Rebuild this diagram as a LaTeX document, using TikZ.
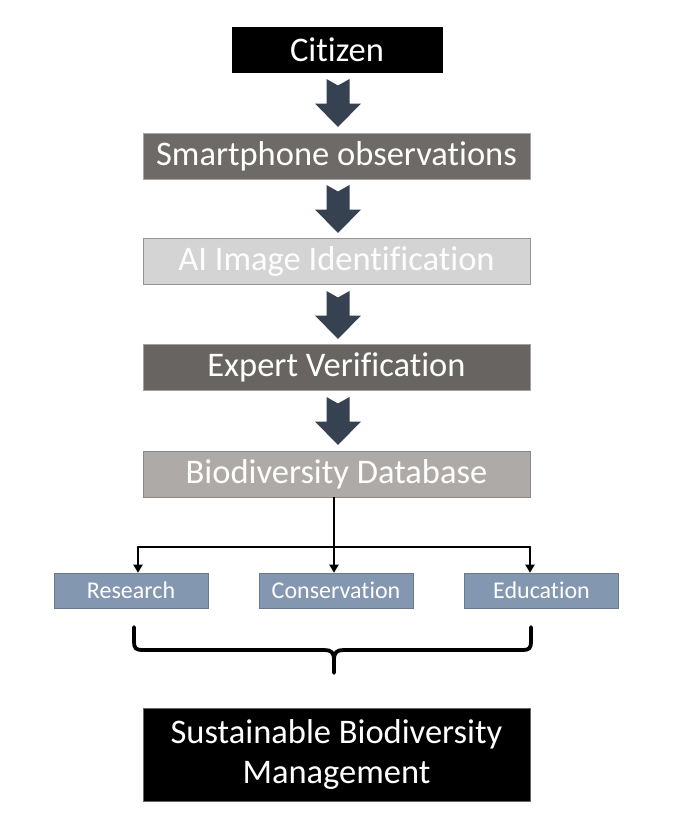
\documentclass[tikz,border=0pt]{standalone}
\usepackage{fontspec}
\setmainfont[Ligatures=NoCommon]{Carlito}
\usetikzlibrary{arrows.meta,calc}
\definecolor{arrowcol}{HTML}{364152}
\definecolor{smartc}{HTML}{6E6A68}
\definecolor{aic}{HTML}{D4D4D4}
\definecolor{expc}{HTML}{686462}
\definecolor{dbc}{HTML}{AEAAA8}
\definecolor{smallc}{HTML}{8497B0}
\tikzset{
  box/.style={rectangle, inner sep=0pt, text=white, font=\fontsize{34.5}{40}\selectfont, draw=#1!70!white, line width=0.8pt},
  bigbox/.style={box=black, minimum width=387pt, minimum height=46pt},
  smallbox/.style={rectangle, inner sep=0pt, text=white, font=\fontsize{24}{28}\selectfont, fill=smallc, draw=smallc!80!black, line width=0.6pt, minimum width=154pt, minimum height=35pt},
  conn/.style={line width=2.8pt, black},
  arr/.style={conn, -{Triangle[width=9pt,length=8pt]}},
  bracestyle/.style={line width=3.8pt, black, line cap=round, line join=round}
}
\newcommand{\blkarrow}[1]{%
  \fill[arrowcol] ($(#1)+(-11.5,7)$) -- ($(#1)+(0,13.5)$) -- ($(#1)+(11.5,7)$) -- ($(#1)+(11.5,31.5)$) -- ($(#1)+(23,31.5)$) -- ($(#1)+(0,55)$) -- ($(#1)+(-23,31.5)$) -- ($(#1)+(-11.5,31.5)$) -- cycle;}
\begin{document}
\begin{tikzpicture}[x=1pt,y=-1pt]
\useasboundingbox[fill=white] (0,0) rectangle (675,820);
\node[bigbox, fill=black, draw=black, minimum width=210pt, minimum height=45pt] (cit) at (337,49.5) {Citizen};
\node[bigbox, fill=smartc, draw=smartc!60!white] (sm) at (336.5,156) {Smartphone observations};
\node[bigbox, fill=aic, draw=aic!70!black, text=white!95!aic] (ai) at (336.5,261) {AI Image Identification};
\node[bigbox, fill=expc, draw=expc!60!white] (ex) at (336.5,367.5) {Expert Verification};
\node[bigbox, fill=dbc, draw=dbc!80!black] (db) at (336.5,474) {Biodiversity Database};
\node[smallbox] (res) at (131,590.5) {Research};
\node[smallbox] (con) at (336,590.5) {Conservation};
\node[smallbox] (edu) at (541.5,590.5) {Education};
\node[bigbox, fill=black, draw=black!60!white, minimum height=93pt, align=center, line width=0.8pt] (sus) at (336.5,754.5) {Sustainable Biodiversity\\Management};
\coordinate (cs) at (338,72);
\coordinate (ss) at (338,178);
\coordinate (as) at (338,284);
\coordinate (es) at (338,390);
\blkarrow{cs}
\blkarrow{ss}
\blkarrow{as}
\blkarrow{es}
\coordinate (jl) at (138,547);
\coordinate (jm) at (334,547);
\coordinate (jr) at (530,547);
\draw[conn] (db.south -| jm) -- (jm);
\draw[conn, line cap=round] (jl) -- (jr);
\draw[arr] (jl) -- (jl |- res.north);
\draw[arr] (jm) -- (jm |- con.north);
\draw[arr] (jr) -- (jr |- edu.north);
\draw[bracestyle] (134,627) -- (134,642) .. controls (134,648) and (136,650) .. (142,650) -- (324,650) .. controls (331,650) and (334,652) .. (334,660) -- (334,673);
\draw[bracestyle] (531,627) -- (531,642) .. controls (531,648) and (529,650) .. (523,650) -- (344,650) .. controls (337,650) and (334,652) .. (334,660);
\end{tikzpicture}
\end{document}
